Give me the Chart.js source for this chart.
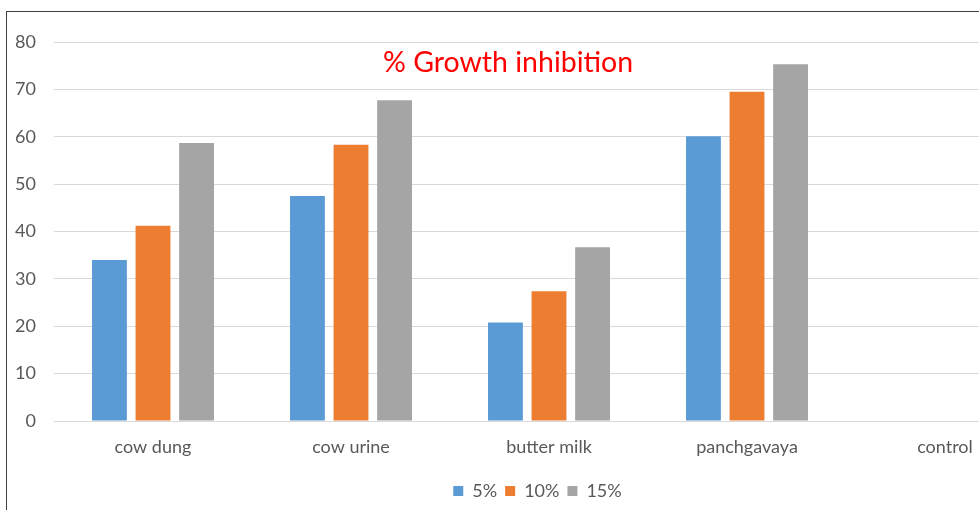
<!DOCTYPE html>
<html>
<head>
<meta charset="utf-8">
<script src="https://cdn.jsdelivr.net/npm/chart.js@4/dist/chart.umd.min.js"></script>
<style>
  html, body { margin: 0; padding: 0; background: #fff; overflow: hidden; width: 979px; height: 510px; }
  #frame { position: absolute; left: 6px; top: 11px; width: 1062px; height: 510px; border: 1px solid #404040; background: #fff; }
  #wrap { position: absolute; left: 0; top: 0; width: 1062px; height: 510px; }
  #title { position: absolute; left: 376px; top: 32px; color: #ff0000; font-family: Lato, "Open Sans", sans-serif; font-size: 28.5px; white-space: nowrap; }
</style>
</head>
<body>
<div id="frame">
  <div id="wrap"><canvas id="c"></canvas></div>
  <div id="title">% Growth inhibition</div>
</div>
<script>
const categories = ["cow dung", "cow urine", "butter milk", "panchgavaya", "control"];
const seriesNames = ["5%", "10%", "15%"];
const values5 = [34.0, 47.5, 20.8, 60.1, 0];
const values10 = [41.2, 58.3, 27.4, 69.5, 0];
const values15 = [58.7, 67.7, 36.7, 75.3, 0];
const yTicks = [0, 10, 20, 30, 40, 50, 60, 70, 80];
const colors = ["#5B9BD5", "#ED7D31", "#A5A5A5"];

const fontFam = "Lato, 'Open Sans', sans-serif";
const legendShift = {
  id: "legendShift",
  afterLayout(chart) {
    if (chart.legend) { chart.legend.left += 12; chart.legend.right += 12; }
  }
};
new Chart(document.getElementById("c"), {
  type: "bar",
  data: {
    labels: categories,
    datasets: [values5, values10, values15].map((v, i) => ({
      label: seriesNames[i],
      data: v,
      backgroundColor: colors[i],
      borderWidth: 0,
      categoryPercentage: 0.66,
      barPercentage: 0.8
    }))
  },
  plugins: [legendShift],
  options: {
    responsive: true,
    maintainAspectRatio: false,
    animation: false,
    layout: { padding: { left: 0, right: 25, top: 30, bottom: 12 } },
    plugins: {
      title: { display: false },
      tooltip: { enabled: false },
      legend: {
        position: "bottom",
        labels: { boxWidth: 10, boxHeight: 10, padding: 8, color: "#595959", font: { family: fontFam, size: 18 } }
      }
    },
    scales: {
      x: {
        grid: { display: false, drawTicks: false },
        border: { display: false },
        afterFit: (s) => { s.height = 53; },
        ticks: { color: "#595959", padding: 15, font: { family: fontFam, size: 18 } }
      },
      y: {
        min: 0, max: 80,
        afterBuildTicks: (s) => { s.ticks = yTicks.map(v => ({ value: v })); },
        afterFit: (s) => { s.width = 47; },
        grid: { color: "#d9d9d9", lineWidth: 1, drawTicks: false },
        border: { display: false },
        ticks: { color: "#595959", padding: 18, font: { family: fontFam, size: 18 } }
      }
    }
  }
});
</script>
</body>
</html>
